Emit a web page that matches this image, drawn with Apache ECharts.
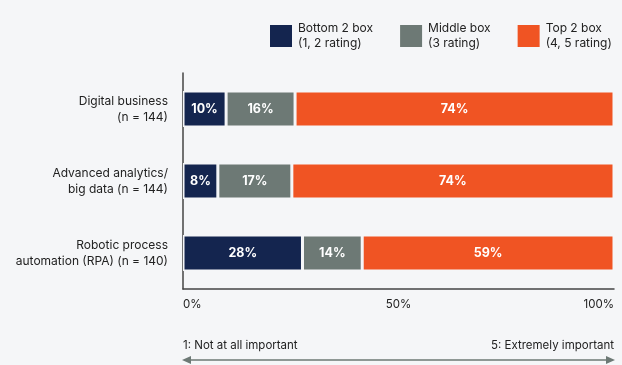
<!DOCTYPE html>
<html>
<head>
<meta charset="utf-8">
<script src="https://cdn.jsdelivr.net/npm/echarts@6/dist/echarts.min.js"></script>
<style>
  html, body { margin: 0; padding: 0; background: #f5f6f8; }
  #main { width: 622px; height: 365px; }
</style>
</head>
<body>
<div id="main"></div>
<script>
// 数据
var categories = ['Digital business\n(n = 144)', 'Advanced analytics/\nbig data (n = 144)', 'Robotic process\nautomation (RPA) (n = 140)'];
var seriesNames = ['Bottom 2 box\n(1, 2 rating)', 'Middle box\n(3 rating)', 'Top 2 box\n(4, 5 rating)'];
var bottom2 = [10, 8, 28];
var middle = [16, 17, 14];
var top2 = [74, 74, 59];
var xTicks = [0, 50, 100];

var bg = '#f5f6f8';
var colors = ['#14254f', '#6d7975', '#f05423'];
var font = 'Inter, "Noto Sans", sans-serif';

var chart = echarts.init(document.getElementById('main'));

// 四舍五入后各行合计不为100，条形按合计归一化，标签显示原值
function normalize(arr) {
    return arr.map(function (v, i) {
        var sum = bottom2[i] + middle[i] + top2[i];
        return {value: v / sum * 100, raw: v};
    });
}

function makeSeries(name, data, color) {
    return {
        name: name,
        type: 'bar',
        stack: 'total',
        data: normalize(data),
        barWidth: 36,
        itemStyle: {color: color, borderColor: bg, borderWidth: 1.5},
        label: {
            show: true,
            formatter: function (p) { return p.data.raw + '%'; },
            color: '#fff',
            fontWeight: 'bold',
            fontSize: 12.5,
            fontFamily: font
        }
    };
}

var option = {
    backgroundColor: bg,
    animation: false,
    legend: {
        top: 21,
        left: 268,
        padding: 0,
        itemWidth: 24,
        itemHeight: 24,
        itemGap: 25,
        icon: 'rect',
        textStyle: {color: '#222', fontSize: 12, fontFamily: font, lineHeight: 15},
        data: seriesNames
    },
    grid: {left: 183, right: 8, top: 73, bottom: 76},
    xAxis: {
        type: 'value',
        min: 0,
        max: 100,
        interval: 50,
        axisLine: {show: true, lineStyle: {color: '#444', width: 1.5}},
        axisTick: {show: false},
        splitLine: {show: false},
        axisLabel: {
            formatter: function (v) { return xTicks.indexOf(v) >= 0 ? v + '%' : ''; },
            color: '#222',
            fontSize: 11.5,
            fontFamily: font,
            margin: 10,
            alignMinLabel: 'left',
            alignMaxLabel: 'right'
        }
    },
    yAxis: {
        type: 'category',
        inverse: true,
        data: categories,
        axisLine: {show: true, lineStyle: {color: '#444', width: 1.5}},
        axisTick: {show: false},
        axisLabel: {color: '#222', fontSize: 12, fontFamily: font, lineHeight: 16, margin: 15, align: 'right'}
    },
    series: [
        makeSeries(seriesNames[0], bottom2, colors[0]),
        makeSeries(seriesNames[1], middle, colors[1]),
        makeSeries(seriesNames[2], top2, colors[2])
    ],
    graphic: [
        // 底部刻度说明
        {type: 'text', left: 183, top: 340, style: {text: '1: Not at all important', fill: '#222', fontSize: 11.5, fontFamily: font}},
        {type: 'text', right: 8, top: 340, style: {text: '5: Extremely important', fill: '#222', fontSize: 11.5, fontFamily: font, align: 'right'}},
        {type: 'line', shape: {x1: 186, y1: 360, x2: 611, y2: 360}, style: {stroke: '#6d7975', lineWidth: 1.5}},
        {type: 'polygon', shape: {points: [[182, 360], [191, 356], [191, 364]]}, style: {fill: '#6d7975'}},
        {type: 'polygon', shape: {points: [[615, 360], [606, 356], [606, 364]]}, style: {fill: '#6d7975'}}
    ]
};

chart.setOption(option);
</script>
</body>
</html>
